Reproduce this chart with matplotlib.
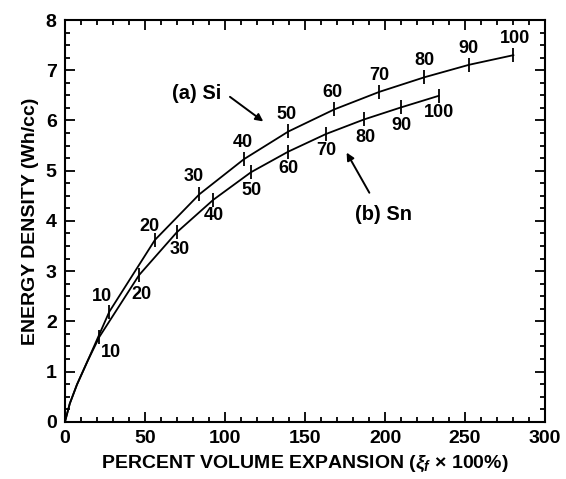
import matplotlib
matplotlib.use('Agg')
import matplotlib.pyplot as plt

plt.rcParams['font.family'] = ['Liberation Sans', 'DejaVu Sans']
plt.rcParams['font.weight'] = 'bold'
plt.rcParams['mathtext.fontset'] = 'custom'
plt.rcParams['mathtext.it'] = 'Liberation Sans:italic:bold'
plt.rcParams['mathtext.rm'] = 'Liberation Sans:bold'

# percent of full lithiation marked along each curve
pct = [10, 20, 30, 40, 50, 60, 70, 80, 90, 100]

# common start of both curves
start_x = [0, 3, 7.5, 14]
start_y = [0, 0.36, 0.74, 1.2]

# (a) Si
si_x = [27.7, 56.2, 84.0, 111.9, 139.6, 168.3, 196.5, 224.6, 252.7, 280.2]
si_y = [2.19, 3.62, 4.53, 5.23, 5.78, 6.22, 6.57, 6.86, 7.11, 7.30]

# (b) Sn
sn_x = [21.5, 46.3, 69.8, 92.7, 116.3, 139.6, 163.1, 186.9, 210.0, 233.5]
sn_y = [1.69, 2.92, 3.77, 4.42, 4.97, 5.38, 5.73, 6.02, 6.26, 6.49]

fig = plt.figure(figsize=(5.66, 4.79), dpi=100)
ax = fig.add_axes([0.1148, 0.1196, 0.8482, 0.8386])

ax.plot(start_x + si_x, start_y + si_y, color='black', lw=1.3)
ax.plot(start_x + sn_x, start_y + sn_y, color='black', lw=1.3)
ax.plot(si_x, si_y, '|', color='black', ms=10, mew=1.3)
ax.plot(sn_x, sn_y, '|', color='black', ms=10, mew=1.3)

# label offsets in points
si_off = [(-5, 11), (-4, 10), (-4, 13), (-1, 12), (-1, 12),
          (-1, 12), (0, 12), (0, 12), (-1, 12), (1, 12)]
sn_off = [(8, -11), (2, -14), (2, -12), (0, -11), (0, -13),
          (0, -12), (0, -12), (1, -13), (0, -13), (0, -12)]
for p, x, y, o in zip(pct, si_x, si_y, si_off):
    ax.annotate(str(p), (x, y), xytext=o, textcoords='offset points',
                ha='center', va='center', fontsize=13, fontweight='bold')
for p, x, y, o in zip(pct, sn_x, sn_y, sn_off):
    ax.annotate(str(p), (x, y), xytext=o, textcoords='offset points',
                ha='center', va='center', fontsize=13, fontweight='bold')

ax.text(82.3, 6.54, '(a) Si', ha='center', va='center', fontsize=14.5, fontweight='bold')
ax.annotate('', xy=(123.9, 5.98), xytext=(103.1, 6.47),
            arrowprops=dict(arrowstyle='-|>', color='black', lw=1.4,
                            mutation_scale=11, shrinkA=0, shrinkB=0))
ax.text(199, 4.12, '(b) Sn', ha='center', va='center', fontsize=14.5, fontweight='bold')
ax.annotate('', xy=(176, 5.36), xytext=(190.2, 4.56),
            arrowprops=dict(arrowstyle='-|>', color='black', lw=1.4,
                            mutation_scale=11, shrinkA=0, shrinkB=0))

ax.set_xlim(0, 300)
ax.set_ylim(0, 8)
ax.set_xticks(range(0, 301, 50))
ax.set_xticks(range(0, 301, 10), minor=True)
ax.set_yticks(range(0, 9))
ax.set_yticks([i * 0.25 for i in range(33)], minor=True)
ax.tick_params(which='both', direction='in', top=True, right=True, width=1.3)
ax.tick_params(which='major', length=7, labelsize=14, pad=6)
ax.tick_params(which='minor', length=3.5)
for s in ax.spines.values():
    s.set_linewidth(1.5)

ax.set_xlabel(r'PERCENT VOLUME EXPANSION ($\mathit{\xi_f}$ $\times$ 100%)',
              fontsize=14, fontweight='bold', labelpad=5)
ax.set_ylabel('ENERGY DENSITY (Wh/cc)', fontsize=14, fontweight='bold', labelpad=5)

fig.savefig('out.png', dpi=100)
